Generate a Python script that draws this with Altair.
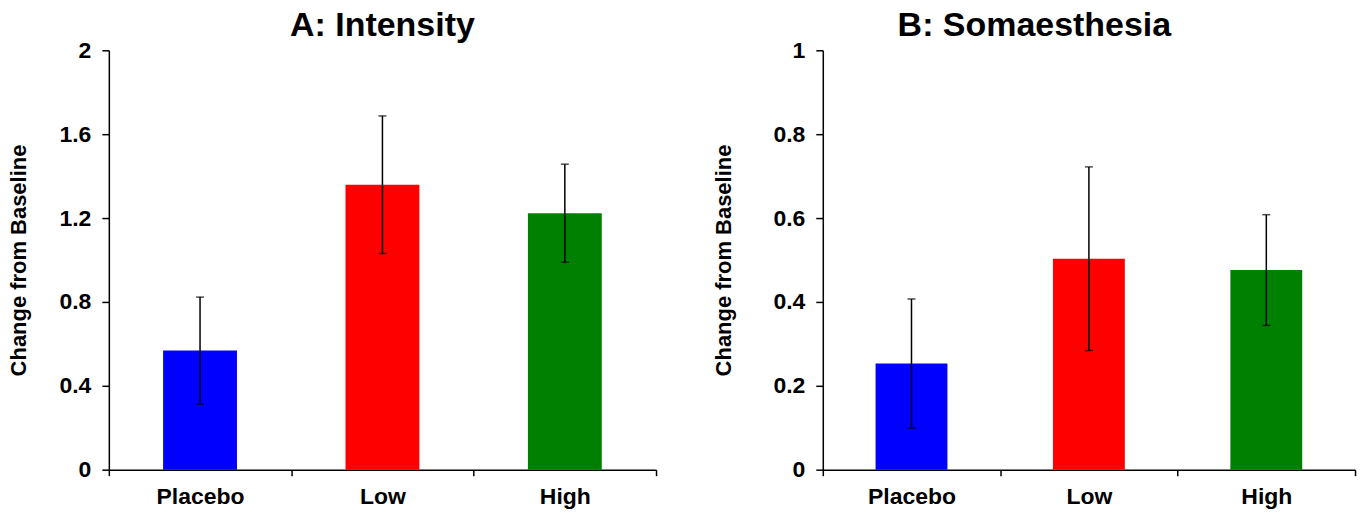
import altair as alt
import pandas as pd

categories = ["Placebo", "Low", "High"]
colors = ["#0000ff", "#ff0000", "#008000"]

intensity_mean = [0.568, 1.359, 1.223]
intensity_err = [0.255, 0.328, 0.234]
intensity_ticks = [0, 0.4, 0.8, 1.2, 1.6, 2]

soma_mean = [0.253, 0.503, 0.476]
soma_err = [0.154, 0.219, 0.132]
soma_ticks = [0, 0.2, 0.4, 0.6, 0.8, 1]

FONT = "Liberation Sans"


def panel(means, errs, ticks, ymax, title, frame, width, title_pad):
    df = pd.DataFrame({
        "group": categories,
        "mean": means,
        "lo": [m - e for m, e in zip(means, errs)],
        "hi": [m + e for m, e in zip(means, errs)],
    })
    base = alt.Chart(df)
    xscale = alt.Scale(domain=categories, paddingInner=0, paddingOuter=0)
    xaxis = alt.Axis(title=None, labelAngle=0, tickBand="extent", tickSize=6,
                     labelPadding=10)
    yscale = alt.Scale(domain=[0, ymax], nice=False, zero=True)
    yaxis = alt.Axis(values=ticks, format="~g", title="Change from Baseline",
                     tickSize=7, labelPadding=11, titlePadding=title_pad, grid=False)

    def X():
        return alt.X("group:N", sort=categories, scale=xscale, axis=xaxis)

    def Y(f):
        return alt.Y(f, scale=yscale, axis=yaxis)

    bars = base.mark_bar(width=alt.RelativeBandSize(0.405)).encode(
        x=X(), y=Y("mean:Q"),
        color=alt.Color("group:N", scale=alt.Scale(domain=categories, range=colors), legend=None),
    )
    rules = base.mark_rule(color="black", strokeWidth=1.5).encode(
        x=X(), y=Y("lo:Q"), y2="hi:Q"
    )
    tlo = base.mark_tick(color="black", size=8, thickness=1.5, orient="horizontal").encode(
        x=X(), y=Y("lo:Q")
    )
    thi = base.mark_tick(color="black", size=8, thickness=1.5, orient="horizontal").encode(
        x=X(), y=Y("hi:Q")
    )
    return alt.layer(bars, rules, tlo, thi).properties(
        width=width, height=420,
        title=alt.TitleParams(title, fontSize=34, font=FONT, fontWeight="bold",
                              anchor="middle", frame=frame, color="black", offset=-4),
    )


a = panel(intensity_mean, intensity_err, intensity_ticks, 2, "A: Intensity", "group", 548, 28)
b = panel(soma_mean, soma_err, soma_ticks, 1, "B: Somaesthesia", "bounds", 533, 37)

chart = alt.hconcat(a, b, spacing=56).configure_view(stroke=None).configure_axis(
    domainColor="black", domainWidth=1.5, tickColor="black", tickWidth=1.5,
    labelColor="black", labelFont=FONT, labelFontSize=23, labelFontWeight="bold",
    titleColor="black", titleFont=FONT, titleFontSize=22, titleFontWeight="bold",
).properties(background="white", padding={"left": 8, "top": 9, "right": 5, "bottom": 1})

chart.save("out.html", embed_options={"renderer": "svg", "actions": False})
